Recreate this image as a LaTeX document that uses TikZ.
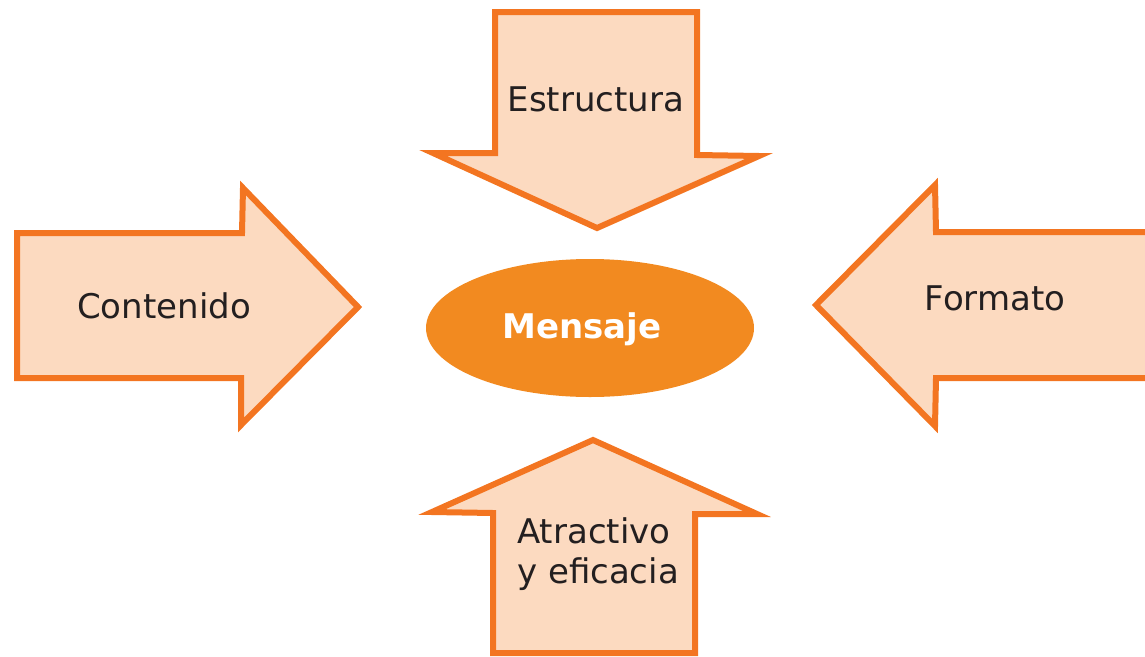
\documentclass[tikz,border=0pt]{standalone}
\usepackage{fontspec}
\usepackage{xcolor}
\setmainfont{DejaVu Sans}
\usetikzlibrary{shapes.geometric}

\definecolor{arrowline}{HTML}{F37521}
\definecolor{arrowfill}{HTML}{FCDAC0}
\definecolor{msgfill}{HTML}{F28A20}
\definecolor{textdark}{HTML}{231F20}

\tikzset{
  bigarrow/.style={draw=arrowline, fill=arrowfill, line width=6pt, line join=miter},
  arrowtext/.style={text=textdark, font=\fontsize{34}{40}\selectfont, inner sep=0pt},
}

\begin{document}
\begin{tikzpicture}[x=1pt, y=-1pt]
  % Keep the page at the size of the picture
  \clip (0,0) rectangle (1145,656);

  \draw[bigarrow] (495,12) -- (697,12) -- (697,155) -- (759,156) -- (597,228) -- (433,153) -- (495,153) -- cycle;
  \draw[bigarrow] (17,233) -- (242,233) -- (243,188) -- (358,307) -- (241,425) -- (241,378) -- (17,378) -- cycle;
  \draw[bigarrow] (1160,232) -- (936,232) -- (935,185) -- (816,305) -- (935,426) -- (936,378) -- (1160,378) -- cycle;
  \draw[bigarrow] (593,440) -- (757,514) -- (695,514) -- (695,653) -- (493,653) -- (493,513) -- (432,512) -- cycle;

  \node[ellipse, fill=msgfill, minimum width=328pt, minimum height=138pt, inner sep=0pt] (mensaje) at (590,328) {};
  \node[text=white, font=\fontsize{34}{40}\selectfont\bfseries, inner sep=0pt, anchor=base] (mensajetext) at (582,338) {Mensaje};

  \node[arrowtext, anchor=base] (estructura) at (596,111) {Estructura};
  \node[arrowtext, anchor=base] (contenido) at (164,318) {Contenido};
  \node[arrowtext, anchor=base] (formato) at (995,310) {Formato};
  \node[arrowtext, anchor=base west, align=left] (atractivo) at (517,583) {Atractivo\\y eficacia};
\end{tikzpicture}
\end{document}
